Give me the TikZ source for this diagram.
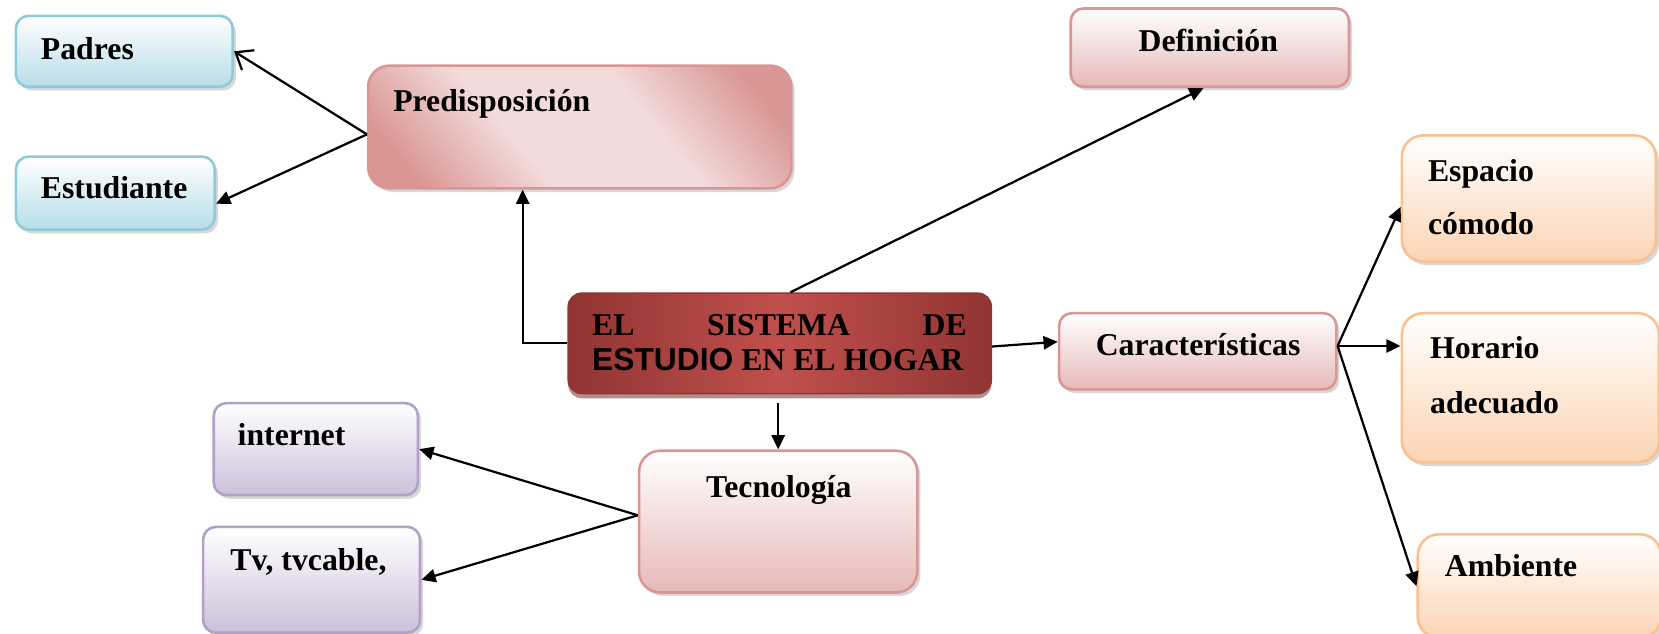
\documentclass[tikz,border=0pt]{standalone}
\usepackage{fontspec}
\setmainfont{Liberation Serif}
\newfontfamily\arialf{Liberation Sans}
\usetikzlibrary{arrows.meta,shadows}
\definecolor{blueB}{HTML}{8FCADA}
\definecolor{blueF}{HTML}{B7DDE8}
\definecolor{pinkB}{HTML}{D99694}
\definecolor{pinkF}{HTML}{E6B9B8}
\definecolor{pinkL}{HTML}{F2DCDB}
\definecolor{oraB}{HTML}{FAC090}
\definecolor{oraF}{HTML}{FBD4B4}
\definecolor{purB}{HTML}{B2A1C7}
\definecolor{purF}{HTML}{CCC0DA}
\definecolor{redD}{HTML}{913432}
\definecolor{redM}{HTML}{C0504D}
\definecolor{redS}{HTML}{62221F}
\pgfdeclareverticalshading{predsh}{100bp}{color(0bp)=(pinkB); color(22bp)=(pinkB); color(40bp)=(pinkL); color(60bp)=(pinkL); color(78bp)=(pinkB); color(100bp)=(pinkB)}
\begin{document}
\begin{tikzpicture}[x=0.1mm,y=-0.1mm,
  box/.style={draw, line width=0.7pt, rounded corners=1.2mm, inner sep=0pt,
    drop shadow={shadow xshift=0.3mm, shadow yshift=-0.35mm, fill=gray!60}},
  bluebox/.style={box, draw=blueB, top color=white, bottom color=blueF},
  pinkbox/.style={box, draw=pinkB, top color=white, bottom color=pinkF},
  orabox/.style={box, draw=oraB, top color=white, bottom color=oraF},
  purbox/.style={box, draw=purB, top color=white, bottom color=purF},
  predbox/.style={box, draw=pinkB, rounded corners=2mm, shading=predsh, shading angle=-50},
  centralbox/.style={draw=redD, line width=0.4pt, rounded corners=1.3mm, inner sep=0pt,
    left color=redD, right color=redD, middle color=redM,
    drop shadow={shadow xshift=0mm, shadow yshift=-0.45mm, fill=redS}},
  txt/.style={font=\fontsize{8.54}{10}\selectfont\bfseries, inner sep=0pt, anchor=base west},
  arr/.style={-{Triangle[length=1.35mm,width=1.25mm]}, line width=0.6pt},
  oarr/.style={-{Straight Barb[length=1.4mm,width=2.2mm]}, line width=0.6pt}
]
\useasboundingbox (0,0) rectangle (1568,599);

% boxes
\node[bluebox, minimum width=20.5mm, minimum height=6.7mm] (padres) at (117.5,48.5) {};
\node[bluebox, minimum width=18.8mm, minimum height=6.9mm] (estud) at (109,182.5) {};
\node[predbox, minimum width=40mm, minimum height=11.6mm] (predisp) at (548,120) {};
\node[pinkbox, minimum width=26.3mm, minimum height=7.4mm] (defin) at (1143.5,45) {};
\node[orabox, rounded corners=2mm, minimum width=24.0mm, minimum height=11.9mm] (espacio) at (1445,187.5) {};
\node[pinkbox, minimum width=26.2mm, minimum height=7.2mm] (caract) at (1132,332) {};
\node[orabox, rounded corners=2mm, minimum width=24.3mm, minimum height=14.1mm] (horario) at (1446.5,366.5) {};
\node[orabox, rounded corners=2mm, minimum width=23.0mm, minimum height=9.8mm] (ambiente) at (1455,554) {};
\node[centralbox, minimum width=40mm, minimum height=9.5mm] (central) at (737,324.5) {};
\node[pinkbox, rounded corners=2mm, minimum width=26.3mm, minimum height=13.4mm] (tecno) at (735.5,493) {};
\node[purbox, minimum width=19.3mm, minimum height=8.7mm] (internet) at (298.5,424.5) {};
\node[purbox, minimum width=20.5mm, minimum height=10.0mm] (tv) at (294.5,548) {};

% texts
\node[txt] (tpadres) at (38,56) {Padres};
\node[txt] (testud) at (38,188) {Estudiante};
\node[txt] (tpred) at (371,105) {Predisposición};
\node[txt, anchor=base] (tdef) at (1142,49) {Definición};
\node[txt] (tesp1) at (1349,172) {Espacio};
\node[txt] (tesp2) at (1349,222) {cómodo};
\node[txt] (tcar) at (1035,336) {Características};
\node[txt] (thor1) at (1351,339) {Horario};
\node[txt] (thor2) at (1351,391) {adecuado};
\node[txt] (tamb) at (1365,545) {Ambiente};
\node[txt] (tc1) at (559,317) {\makebox[35.4mm][s]{EL SISTEMA DE}};
\node[txt] (tc2) at (559,350) {{\arialf\bfseries ESTUDIO} EN EL HOGAR};
\node[txt, anchor=base] (ttec) at (736,470) {Tecnología};
\node[txt] (tint) at (224,421) {internet};
\node[txt] (ttv) at (217,539) {Tv, tvcable,};

% connectors
\coordinate (pstart) at ([yshift=-0.7mm]predisp.west);
\draw[oarr] (pstart) -- (padres.east);
\draw[arr] (pstart) -- ([yshift=-1mm]estud.east);
\draw[arr] (central.west) -| ([xshift=-5.4mm]predisp.south);
\draw[arr] ([xshift=1mm]central.north) -- ([xshift=-0.6mm]defin.south);
\draw[arr] ([yshift=-0.3mm]central.east) -- ([yshift=0.9mm]caract.west);
\coordinate (cstart) at ([yshift=0.5mm]caract.east);
\draw[arr] (cstart) -- ([yshift=-0.8mm]espacio.west);
\draw[arr] (cstart) -- (cstart -| horario.west);
\draw[arr] (cstart) -- (ambiente.west);
\coordinate (tstart) at ([yshift=-0.8mm]central.south);
\draw[arr] (tstart -| tecno.north) -- (tecno.north);
\coordinate (tecstart) at ([yshift=0.6mm]tecno.west);
\draw[arr] (tecstart) -- (internet.east);
\draw[arr] (tecstart) -- (tv.east);
\end{tikzpicture}
\end{document}
